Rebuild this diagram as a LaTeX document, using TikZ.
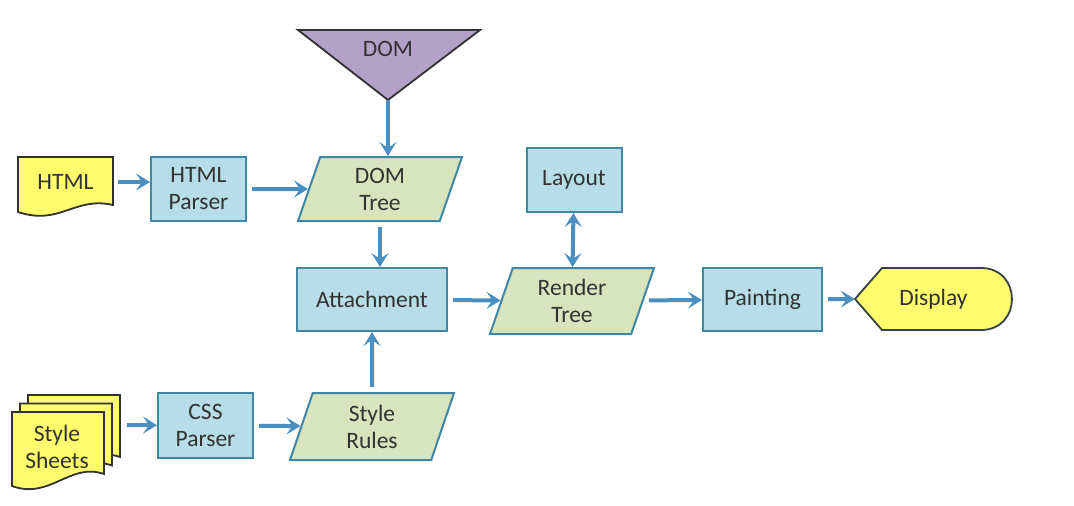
\documentclass[tikz,border=0pt]{standalone}
\usepackage{fontspec}
\setmainfont{Carlito}
\usetikzlibrary{arrows.meta, positioning, shapes.geometric, calc}
\definecolor{boxblue}{RGB}{183,222,232}
\definecolor{boxedge}{RGB}{64,134,165}
\definecolor{treegreen}{RGB}{215,228,189}
\definecolor{docyellow}{RGB}{255,252,110}
\definecolor{domlilac}{RGB}{179,162,199}
\definecolor{flowblue}{RGB}{74,143,192}
\definecolor{inkgray}{RGB}{50,50,50}
\tikzset{flowtip/.tip={Stealth[length=14pt, width=17pt, inset=6pt]}}

\begin{document}
\begin{tikzpicture}[
    x=1pt, y=-1pt,
    font=\fontsize{23.5}{27}\selectfont,
    text=inkgray,
    box/.style={draw=boxedge, line width=2pt, fill=boxblue, minimum width=95pt, minimum height=64pt, align=center, inner sep=2pt},
    treebox/.style={trapezium, trapezium left angle=63.4, trapezium right angle=116.6, trapezium stretches body, draw=boxedge, line width=2pt, fill=treegreen, minimum width=164pt, minimum height=64pt, align=center, inner sep=1pt},
    doc/.style={draw=inkgray, line width=1.8pt, fill=docyellow},
    label/.style={align=center, inner sep=0pt},
    arrow/.style={-flowtip, line width=4pt, draw=flowblue, shorten <=5pt},
]
\path[fill=white] (0,0) rectangle (1074,506);

% HTML input
\draw[doc] (18,157) -- (113,157) -- (113,205) .. controls (75,196) and (60,226) .. (18,212) -- cycle;
\node[label, minimum width=95pt, minimum height=50pt] (html) at (65.5,182) {HTML};
\node[box] (hparser) at (198.5,189) {HTML\\Parser};

% DOM
\draw[draw=inkgray, line width=1.8pt, fill=domlilac] (298,30) -- (480,30) -- (388,100) -- cycle;
\node[label] (dom) at (388,49) {DOM};
\coordinate (domtip) at (388,100);
\node[treebox] (domtree) at (380,189) {DOM\\Tree};

% Middle row
\node[box, minimum width=150pt, minimum height=63pt] (attach) at (372,299.5) {Attachment};
\node[treebox, minimum height=66pt] (rtree) at (572,301) {Render\\Tree};
\node[box] (layout) at (574,180) {Layout};
\node[box, minimum width=119pt, minimum height=63pt] (paint) at (762.5,299.5) {Painting};

% Display
\draw[draw=inkgray!80!boxedge, line width=1.8pt, fill=docyellow] (855,299) -- (882,268) -- (981,268)
    .. controls (1022.3,268) and (1022.3,330) .. (981,330) -- (882,330) -- cycle;
\node[label, minimum width=157pt, minimum height=62pt] (display) at (933.5,299) {Display};

% Style sheets
\foreach \dx/\dy in {16/-17, 8/-8.5, 0/0}
    \draw[doc, shift={(\dx,\dy)}] (12,412) -- (104,412) -- (104,474) .. controls (70,462) and (50,500) .. (12,486) -- cycle;
\node[label] (sheets) at (57,447) {Style\\Sheets};
\coordinate (sheetsedge) at (122,425);
\node[box, minimum height=65pt] (cssparser) at (205.5,425.5) {CSS\\Parser};
\node[treebox, minimum height=67pt] (srules) at (372,426.5) {Style\\Rules};

% Connectors
\draw[arrow] (html.east) -- (html.east -| hparser.west);
\draw[arrow] (hparser) -- (domtree);
\draw[arrow, shorten <=0pt] (domtip) -- (domtip |- domtree.north);
\draw[arrow] (domtree.south) -- (domtree.south |- attach.north);
\draw[arrow] (srules.north) -- (attach.south);
\draw[arrow] (attach) -- (rtree);
\draw[arrow, flowtip-flowtip, shorten <=0pt] (layout) -- (rtree);
\draw[arrow] (rtree) -- (paint);
\draw[arrow] (paint) -- (display.west);
\draw[arrow] (sheetsedge) -- (cssparser);
\draw[arrow] (cssparser) -- (srules);
\end{tikzpicture}
\end{document}
